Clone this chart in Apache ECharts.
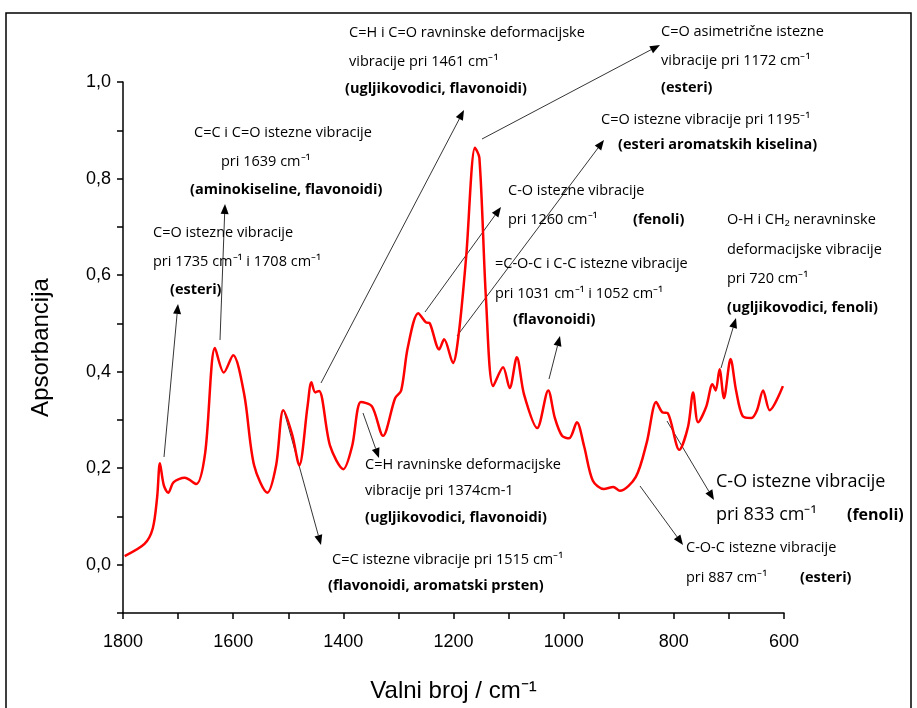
<!DOCTYPE html>
<html>
<head>
<meta charset="utf-8">
<script src="https://cdn.jsdelivr.net/npm/echarts@6/dist/echarts.min.js"></script>
<style>html,body{margin:0;padding:0;background:#fff}#chart{width:917px;height:708px}</style>
</head>
<body>
<div id="chart"></div>
<script>
// valni broj (cm-1) i apsorbancija, očitano sa spektra
const waveNumbers = [1797,1761,1746,1738,1733,1726,1718,1708,1688,1667,1651,1633,1617,1600,1580,1562,1538,1522,1509,1493,1480,1465,1458,1451,1444,1424,1400,1384,1368,1348,1328,1306,1295,1283,1264,1250,1243,1226,1217,1201,1190,1177,1161,1153,1141,1128,1110,1098,1085,1072,1048,1028,1016,1003,990,976,963,947,927,910,898,869,849,832,821,811,790,774,765,756,741,730,724,717,709,697,687,675,659,649,638,626,602];
const absorbance = [0.018,0.043,0.075,0.14,0.21,0.165,0.149,0.171,0.18,0.167,0.23,0.449,0.398,0.434,0.353,0.206,0.149,0.206,0.32,0.27,0.206,0.328,0.378,0.357,0.36,0.246,0.198,0.246,0.337,0.328,0.267,0.345,0.361,0.45,0.521,0.502,0.50,0.446,0.467,0.418,0.483,0.638,0.864,0.843,0.55,0.37,0.409,0.366,0.43,0.353,0.283,0.361,0.304,0.267,0.262,0.295,0.246,0.174,0.157,0.161,0.153,0.182,0.254,0.337,0.316,0.314,0.238,0.287,0.357,0.295,0.328,0.374,0.361,0.405,0.345,0.426,0.361,0.308,0.304,0.32,0.361,0.32,0.37];
const xTickLabels = [1800,1600,1400,1200,1000,800,600];
const yTickLabels = ['0,0','0,2','0,4','0,6','0,8','1,0'];

const FONT = '"Open Sans",sans-serif';

// tekst napomena: [x, y, tekst, bold, velicina]
const notes = [
  [349,33,'C=H i C=O ravninske deformacijske'],
  [349,62,'vibracije pri 1461 cm⁻¹'],
  [345,89,'(ugljikovodici, flavonoidi)',true],
  [661,32,'C=O asimetrične istezne'],
  [661,61,'vibracije pri 1172 cm⁻¹'],
  [661,88,'(esteri)',true],
  [601,120,'C=O istezne vibracije pri 1195⁻¹'],
  [618,145,'(esteri aromatskih kiselina)',true],
  [194,133,'C=C i C=O istezne vibracije'],
  [221,162,'pri 1639 cm⁻¹'],
  [190,190,'(aminokiseline, flavonoidi)',true],
  [508,191,'C-O istezne vibracije'],
  [508,220,'pri 1260 cm⁻¹'],
  [633,220,'(fenoli)',true],
  [727,220,'O-H i CH₂ neravninske'],
  [727,250,'deformacijske vibracije'],
  [727,279,'pri 720 cm⁻¹'],
  [727,308,'(ugljikovodici, fenoli)',true],
  [153,233,'C=O istezne vibracije'],
  [153,262,'pri 1735 cm⁻¹ i 1708 cm⁻¹'],
  [170,290,'(esteri)',true],
  [495,264,'=C-O-C i C-C istezne vibracije'],
  [495,294,'pri 1031 cm⁻¹ i 1052 cm⁻¹'],
  [513,320,'(flavonoidi)',true],
  [365,465,'C=H ravninske deformacijske'],
  [365,491,'vibracije pri 1374cm-1'],
  [365,518,'(ugljikovodici, flavonoidi)',true],
  [716,482,'C-O istezne vibracije',false,18],
  [716,515,'pri 833 cm⁻¹',false,18],
  [847,515,'(fenoli)',true,16],
  [332,560,'C=C istezne vibracije pri 1515 cm⁻¹'],
  [328,586,'(flavonoidi, aromatski prsten)',true],
  [686,548,'C-O-C istezne vibracije'],
  [686,578,'pri 887 cm⁻¹'],
  [800,578,'(esteri)',true]
];

// strelice: od [x1,y1] do vrha [x2,y2]
const arrows = [
  [164,457,178,304],[220,340,225,204],[321,383,464,110],[482,139,660,45],
  [457,336,604,140],[425,312,501,207],[549,379,560,336],[721,368,736,318],
  [284,411,321,545],[363,413,379,458],[667,421,714,500],[640,486,683,545]
];

const graphic = [{type:'rect',shape:{x:6,y:13,width:905,height:720},style:{fill:'none',stroke:'#000',lineWidth:1.5},silent:true}];
notes.forEach(n => graphic.push({
  type:'text', x:n[0], y:n[1],
  style:{text:n[2], fill:'#000', font:(n[3]?'bold ':'')+(n[4]||14.5)+'px '+FONT, textVerticalAlign:'middle'}
}));
arrows.forEach(a => {
  const ang = Math.atan2(a[3]-a[1], a[2]-a[0]);
  const L = 10, W = 4;
  const bx = a[2]-L*Math.cos(ang), by = a[3]-L*Math.sin(ang);
  graphic.push({type:'line',shape:{x1:a[0],y1:a[1],x2:bx,y2:by},style:{stroke:'#000',lineWidth:0.8}});
  graphic.push({type:'polygon',shape:{points:[[a[2],a[3]],[bx+W*Math.sin(ang),by-W*Math.cos(ang)],[bx-W*Math.sin(ang),by+W*Math.cos(ang)]]},style:{fill:'#000'}});
});

const chart = echarts.init(document.getElementById('chart'));
chart.setOption({
  animation:false,
  grid:{left:123,right:133,top:82,bottom:94},
  xAxis:{
    type:'value', min:600, max:1800, interval:100, inverse:true,
    name:'Valni broj / cm⁻¹', nameLocation:'middle', nameGap:66,
    nameTextStyle:{fontSize:24,fontFamily:'Liberation Sans',color:'#000'},
    axisLine:{onZero:false,lineStyle:{color:'#000',width:1.5}},
    axisTick:{inside:false,length:6,lineStyle:{color:'#000',width:1.5}},
    axisLabel:{fontSize:18,fontFamily:'Liberation Sans',color:'#000',margin:20,
      formatter:v => xTickLabels.includes(v) ? String(v) : ''},
    splitLine:{show:false}
  },
  yAxis:{
    type:'value', min:-0.1, max:1.0, interval:0.1,
    name:'Apsorbancija', nameLocation:'middle', nameGap:70, nameRotate:90,
    nameTextStyle:{fontSize:24,fontFamily:'Liberation Sans',color:'#000'},
    axisLine:{show:true,onZero:false,lineStyle:{color:'#000',width:1.5}},
    axisTick:{show:true,length:6,lineStyle:{color:'#000',width:1.5}},
    axisLabel:{fontSize:18,fontFamily:'Liberation Sans',color:'#000',margin:12,
      formatter:v => { const i = Math.round(v*10); return (i>=0 && i%2===0) ? yTickLabels[i/2] : ''; }},
    splitLine:{show:false}
  },
  series:[{
    type:'line', smooth:0.3, symbol:'none',
    data:waveNumbers.map((w,i)=>[w,absorbance[i]]),
    lineStyle:{color:'#ff0000',width:2.5}
  }],
  graphic:graphic
});
</script>
</body>
</html>
